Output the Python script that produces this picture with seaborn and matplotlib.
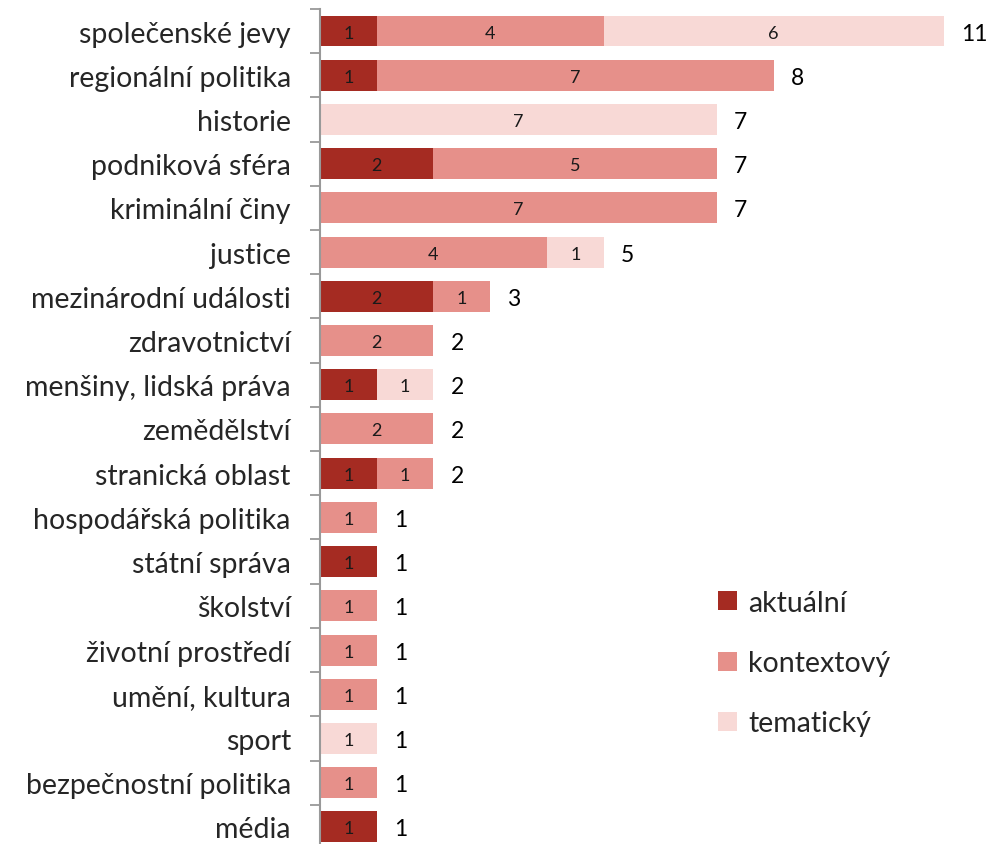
import matplotlib
matplotlib.use("Agg")
import matplotlib.pyplot as plt
import seaborn as sns
import pandas as pd
import numpy as np
from matplotlib.patches import Patch

categories = ["společenské jevy", "regionální politika", "historie", "podniková sféra",
              "kriminální činy", "justice", "mezinárodní události", "zdravotnictví",
              "menšiny, lidská práva", "zemědělství", "stranická oblast",
              "hospodářská politika", "státní správa", "školství", "životní prostředí",
              "umění, kultura", "sport", "bezpečnostní politika", "média"]
aktualni =   [1, 1, 0, 2, 0, 0, 2, 0, 1, 0, 1, 0, 1, 0, 0, 0, 0, 0, 1]
kontextovy = [4, 7, 0, 5, 7, 4, 1, 2, 0, 2, 1, 1, 0, 1, 1, 1, 0, 1, 0]
tematicky =  [6, 0, 7, 0, 0, 1, 0, 0, 1, 0, 0, 0, 0, 0, 0, 0, 1, 0, 0]
series_names = ["aktuální", "kontextový", "tematický"]
colors = ["#A52B22", "#E6908A", "#F8D9D6"]

sns.set_style("white")
plt.rcParams['font.family'] = ['Lato', 'DejaVu Sans']

df = pd.DataFrame({"cat": categories, "a": aktualni, "k": kontextovy, "t": tematicky})
df["c1"] = df["a"]
df["c2"] = df["a"] + df["k"]
df["c3"] = df["a"] + df["k"] + df["t"]

fig = plt.figure(figsize=(9.87, 8.45), dpi=100)
ax = fig.add_axes([320/987, (845-850)/845, (987-320)/987, (850-9.9)/845])

for col, color in zip(["c3", "c2", "c1"], colors[::-1]):
    sns.barplot(data=df, x=col, y="cat", orient="h", color=color, width=0.7,
                saturation=1, ax=ax, linewidth=0)

# segment labels
for i, row in df.iterrows():
    left = 0
    for v in (row["a"], row["k"], row["t"]):
        if v > 0:
            ax.text(left + v/2, i, str(v), ha="center", va="center_baseline",
                    fontsize=13, color="#1a1a1a")
        left += v
    ax.text(row["c3"] + 0.3, i, str(row["c3"]), ha="left", va="center_baseline",
            fontsize=16.5, color="black")

ax.set_xlim(0, 11.76)
ax.set_ylim(18.5, -0.5)
ax.set_xlabel("")
ax.set_ylabel("")
ax.set_xticks([])
ax.set_yticks(np.arange(-0.5, 19, 1), minor=False)
ax.set_yticklabels([])
ax.set_yticks(np.arange(len(categories)), minor=True)
ax.set_yticklabels(categories, minor=True, fontsize=20.5)
ax.tick_params(axis="y", which="major", left=True, length=7, width=1.3, color="#999999", direction="out")
ax.tick_params(axis="y", which="minor", left=True, length=0, pad=21)
for s in ["top", "right", "bottom"]:
    ax.spines[s].set_visible(False)
ax.spines["left"].set_color("#999999")
ax.spines["left"].set_linewidth(1.5)

handles = [Patch(facecolor=c, edgecolor="none") for c in colors]
leg = ax.legend(handles, series_names, loc="upper left", bbox_to_anchor=(0.58, 0.322),
                frameon=False, fontsize=20.5, handlelength=0.65, handleheight=0.65,
                labelspacing=1.2, handletextpad=0.4, borderaxespad=0)

fig.savefig("out.png", dpi=100)
